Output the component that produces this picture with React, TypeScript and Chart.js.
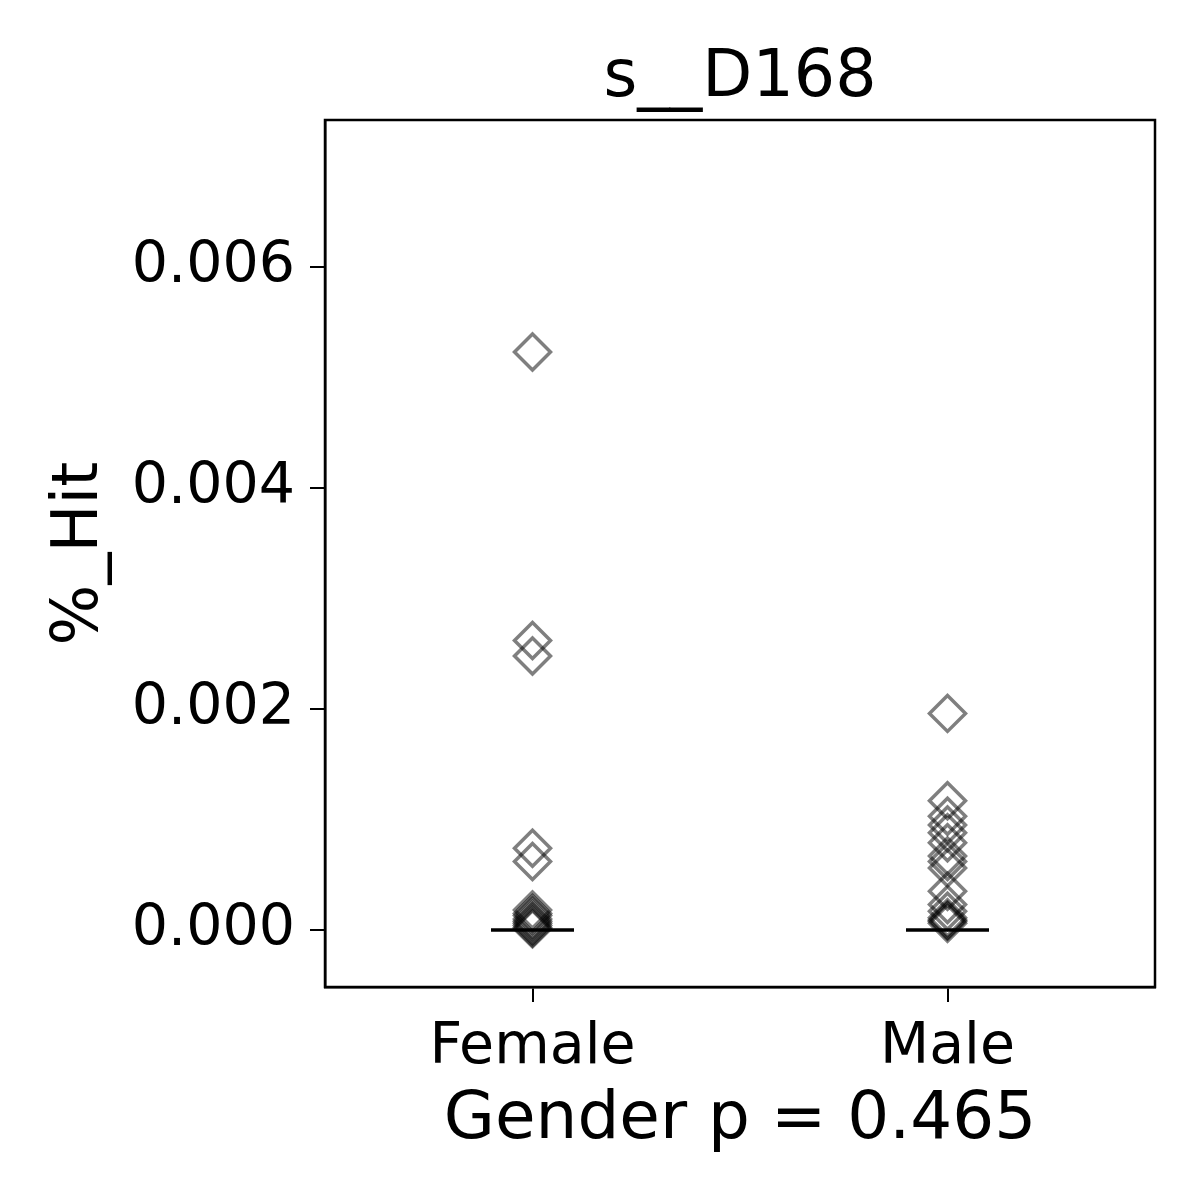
import React, { useEffect, useRef } from "react";
import { Chart, registerables } from "chart.js";

Chart.register(...registerables);

const chartTitle = "s__D168";
const xAxisTitle = "Gender p = 0.465";
const yAxisTitle = "%_Hit";
const categories = ["Female", "Male"];
const femaleValues = [0.00523, 0.00262, 0.00248, 0.00074, 0.00062, 0.00018, 0.00015, 0.00013, 0.0001, 0.00008, 0.00006, 0.00004, 0.00002, 0.00001];
const maleValues = [0.00196, 0.00117, 0.00103, 0.00095, 0.00088, 0.00079, 0.00067, 0.00062, 0.00056, 0.00035, 0.00023, 0.00017, 0.00011, 0.00009, 0.00008, 0.00006];
const medians = [0.0, 0.0];
const yTicks = [0, 0.002, 0.004, 0.006];

const FONT = "'DejaVu Sans', sans-serif";

export default function App() {
  const ref = useRef<HTMLCanvasElement | null>(null);

  useEffect(() => {
    if (!ref.current) return;
    const groups = [femaleValues, maleValues];
    const medianSets = medians.map((m, i) => ({
      type: "line" as const,
      data: [
        { x: i - 0.1, y: m },
        { x: i + 0.1, y: m },
      ],
      borderColor: "#000",
      borderWidth: 3.5,
      pointRadius: 0,
      showLine: true,
    }));
    const pointSets = groups.map((vals, i) => ({
      type: "scatter" as const,
      data: vals.map((v) => ({ x: i, y: v })),
      pointStyle: "rectRot",
      pointRadius: 18,
      borderWidth: 3.5,
      borderColor: "rgba(0,0,0,0.5)",
      backgroundColor: "rgba(0,0,0,0)",
    }));

    const framePlugin = {
      id: "frame",
      afterDraw(chart: any) {
        const { ctx, chartArea } = chart;
        ctx.save();
        ctx.strokeStyle = "#000";
        ctx.lineWidth = 2.5;
        ctx.strokeRect(chartArea.left, chartArea.top, chartArea.right - chartArea.left, chartArea.bottom - chartArea.top);
        ctx.fillStyle = "#000";
        ctx.font = `65px ${FONT}`;
        ctx.textAlign = "center";
        ctx.textBaseline = "alphabetic";
        ctx.fillText(chartTitle, (chartArea.left + chartArea.right) / 2, 96);
        ctx.restore();
      },
    };

    const chart = new Chart(ref.current, {
      type: "scatter",
      data: { datasets: [...medianSets, ...pointSets] as any },
      plugins: [framePlugin],
      options: {
        animation: false,
        responsive: false,
        devicePixelRatio: 1,
        layout: { padding: { top: 120, right: 45, left: 0, bottom: 0 } },
        plugins: { legend: { display: false }, tooltip: { enabled: false }, title: { display: false } },
        scales: {
          x: {
            type: "linear",
            min: -0.5,
            max: 1.5,
            afterFit: (s: any) => {
              s.height = 213;
            },
            afterBuildTicks: (s: any) => {
              s.ticks = categories.map((_, i) => ({ value: i }));
            },
            ticks: {
              callback: (v: any) => categories[Math.round(Number(v))] ?? "",
              color: "#000",
              font: { family: FONT, size: 57 },
              padding: 12,
              maxRotation: 0,
            },
            grid: { drawOnChartArea: false, tickLength: 15, color: "#000", lineWidth: 2 },
            border: { display: true, color: "#000", width: 2.5 },
            title: {
              display: true,
              text: xAxisTitle,
              color: "#000",
              font: { family: FONT, size: 66 },
              padding: { top: 0, bottom: 40 },
            },
          },
          y: {
            type: "linear",
            min: -0.000516,
            max: 0.00733,
            afterFit: (s: any) => {
              s.width = 325;
            },
            afterBuildTicks: (s: any) => {
              s.ticks = yTicks.map((v) => ({ value: v }));
            },
            ticks: {
              callback: (v: any) => Number(v).toFixed(3),
              color: "#000",
              font: { family: FONT, size: 57 },
              padding: 15,
            },
            grid: { drawOnChartArea: false, tickLength: 15, color: "#000", lineWidth: 2 },
            border: { display: true, color: "#000", width: 2.5 },
            title: {
              display: true,
              text: yAxisTitle,
              color: "#000",
              font: { family: FONT, size: 64 },
              padding: { top: 42, bottom: 0 },
            },
          },
        },
      },
    });
    return () => chart.destroy();
  }, []);

  return (
    <div style={{ position: "fixed", left: 0, top: 0, width: 1200, height: 1200, background: "#fff" }}>
      <canvas ref={ref} width={1200} height={1200} style={{ width: 1200, height: 1200 }} />
    </div>
  );
}
